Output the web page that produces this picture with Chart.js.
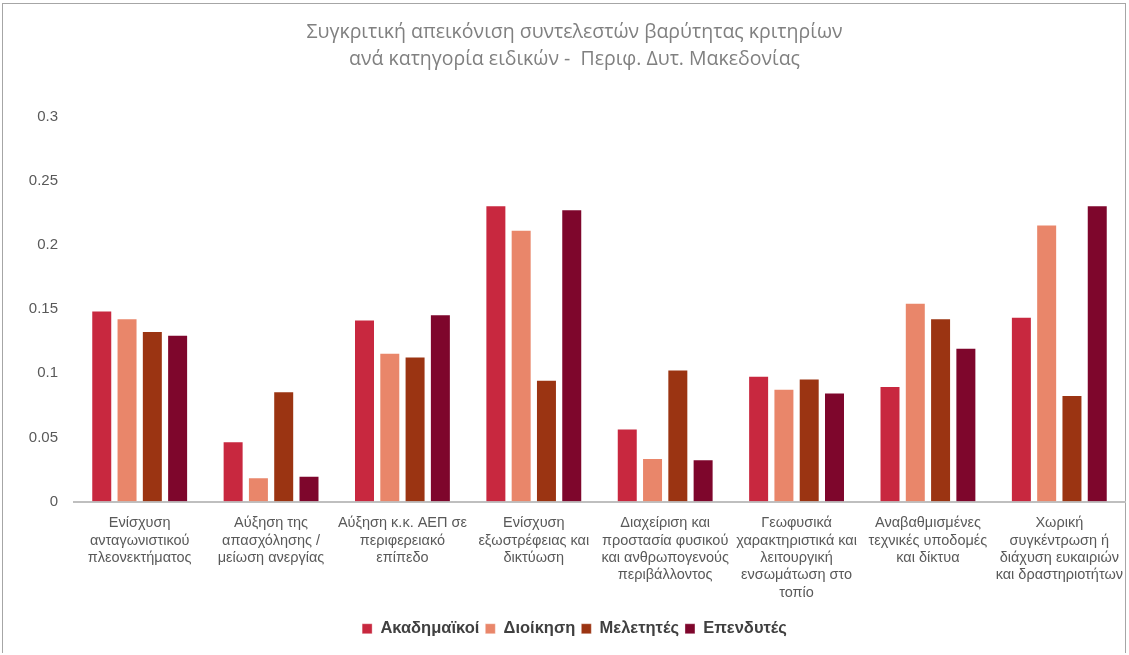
<!DOCTYPE html>
<html>
<head>
<meta charset="utf-8">
<script src="https://cdn.jsdelivr.net/npm/chart.js@4"></script>
<style>
  body { margin: 0; background: #fff; }
  #box { position: absolute; left: 2px; top: 3px; width: 1124px; height: 650px; border: 1px solid #a6a6a6; border-bottom: none; box-sizing: border-box; }
  #wrap { position: absolute; left: 0; top: 0; width: 1129px; height: 655px; }
</style>
</head>
<body>
<div id="box"></div>
<div id="wrap"><canvas id="myChart" width="1129" height="655"></canvas></div>
<script>
// κατηγορίες κριτηρίων
const categories = [
    ['Ενίσχυση', 'ανταγωνιστικού', 'πλεονεκτήματος'],
    ['Αύξηση της', 'απασχόλησης /', 'μείωση ανεργίας'],
    ['Αύξηση κ.κ. ΑΕΠ σε', 'περιφερειακό', 'επίπεδο'],
    ['Ενίσχυση', 'εξωστρέφειας και', 'δικτύωση'],
    ['Διαχείριση και', 'προστασία φυσικού', 'και ανθρωπογενούς', 'περιβάλλοντος'],
    ['Γεωφυσικά', 'χαρακτηριστικά και', 'λειτουργική', 'ενσωμάτωση στο', 'τοπίο'],
    ['Αναβαθμισμένες', 'τεχνικές υποδομές', 'και δίκτυα'],
    ['Χωρική', 'συγκέντρωση ή', 'διάχυση ευκαιριών', 'και δραστηριοτήτων']
];

const akadimaikoi = [0.149, 0.047, 0.142, 0.231, 0.057, 0.098, 0.090, 0.144];
const dioikisi    = [0.143, 0.019, 0.116, 0.212, 0.034, 0.088, 0.155, 0.216];
const meletites   = [0.133, 0.086, 0.113, 0.095, 0.103, 0.096, 0.143, 0.083];
const ependytes   = [0.130, 0.020, 0.146, 0.228, 0.033, 0.085, 0.120, 0.231];

const yTicks = [0, 0.05, 0.1, 0.15, 0.2, 0.25, 0.3];

const fontFam = '"Liberation Sans", Arial, sans-serif';
const titleFam = '"Open Sans", "Liberation Sans", sans-serif';

function ds(label, data, color) {
    return {
        label: label,
        data: data,
        backgroundColor: color,
        borderColor: 'rgba(255,255,255,0.35)',
        borderWidth: 1,
        barPercentage: 0.83,
        categoryPercentage: 0.77
    };
}

const ctx = document.getElementById('myChart').getContext('2d');
const myChart = new Chart(ctx, {
    type: 'bar',
    data: {
        labels: categories,
        datasets: [
            ds('Ακαδημαϊκοί', akadimaikoi, '#C8283F'),
            ds('Διοίκηση', dioikisi, '#E9866A'),
            ds('Μελετητές', meletites, '#9B3412'),
            ds('Επενδυτές', ependytes, '#7E062C')
        ]
    },
    options: {
        responsive: false,
        animation: false,
        layout: { padding: { left: 24, right: 4, top: 19, bottom: 8 } },
        plugins: {
            title: {
                display: true,
                text: ['Συγκριτική απεικόνιση συντελεστών βαρύτητας κριτηρίων', 'ανά κατηγορία ειδικών -  Περιφ. Δυτ. Μακεδονίας'],
                color: '#808080',
                font: { family: titleFam, size: 19.5, weight: 'normal', lineHeight: 1.38 },
                padding: { top: 0, bottom: 44 }
            },
            legend: {
                position: 'bottom',
                labels: {
                    color: '#404040',
                    font: { family: fontFam, size: 16.5, weight: 'bold' },
                    boxWidth: 10,
                    boxHeight: 10,
                    padding: 6
                }
            },
            tooltip: { enabled: false }
        },
        scales: {
            x: {
                grid: { display: false, drawTicks: false },
                border: { color: '#bfbfbf', width: 2 },
                ticks: {
                    color: '#595959',
                    font: { family: fontFam, size: 14.5, lineHeight: 1.2 },
                    maxRotation: 0,
                    autoSkip: false,
                    padding: 13
                },
                afterFit: axis => { axis.paddingLeft = 0; axis.paddingRight = 0; }
            },
            y: {
                min: 0,
                max: 0.3,
                afterBuildTicks: axis => { axis.ticks = yTicks.map(v => ({ value: v })); },
                grid: { display: false, drawTicks: false },
                border: { display: false },
                ticks: {
                    color: '#595959',
                    font: { family: fontFam, size: 15 },
                    padding: 16,
                    callback: v => String(v)
                },
                afterFit: axis => { axis.width = 50; }
            }
        }
    }
});
</script>
</body>
</html>
